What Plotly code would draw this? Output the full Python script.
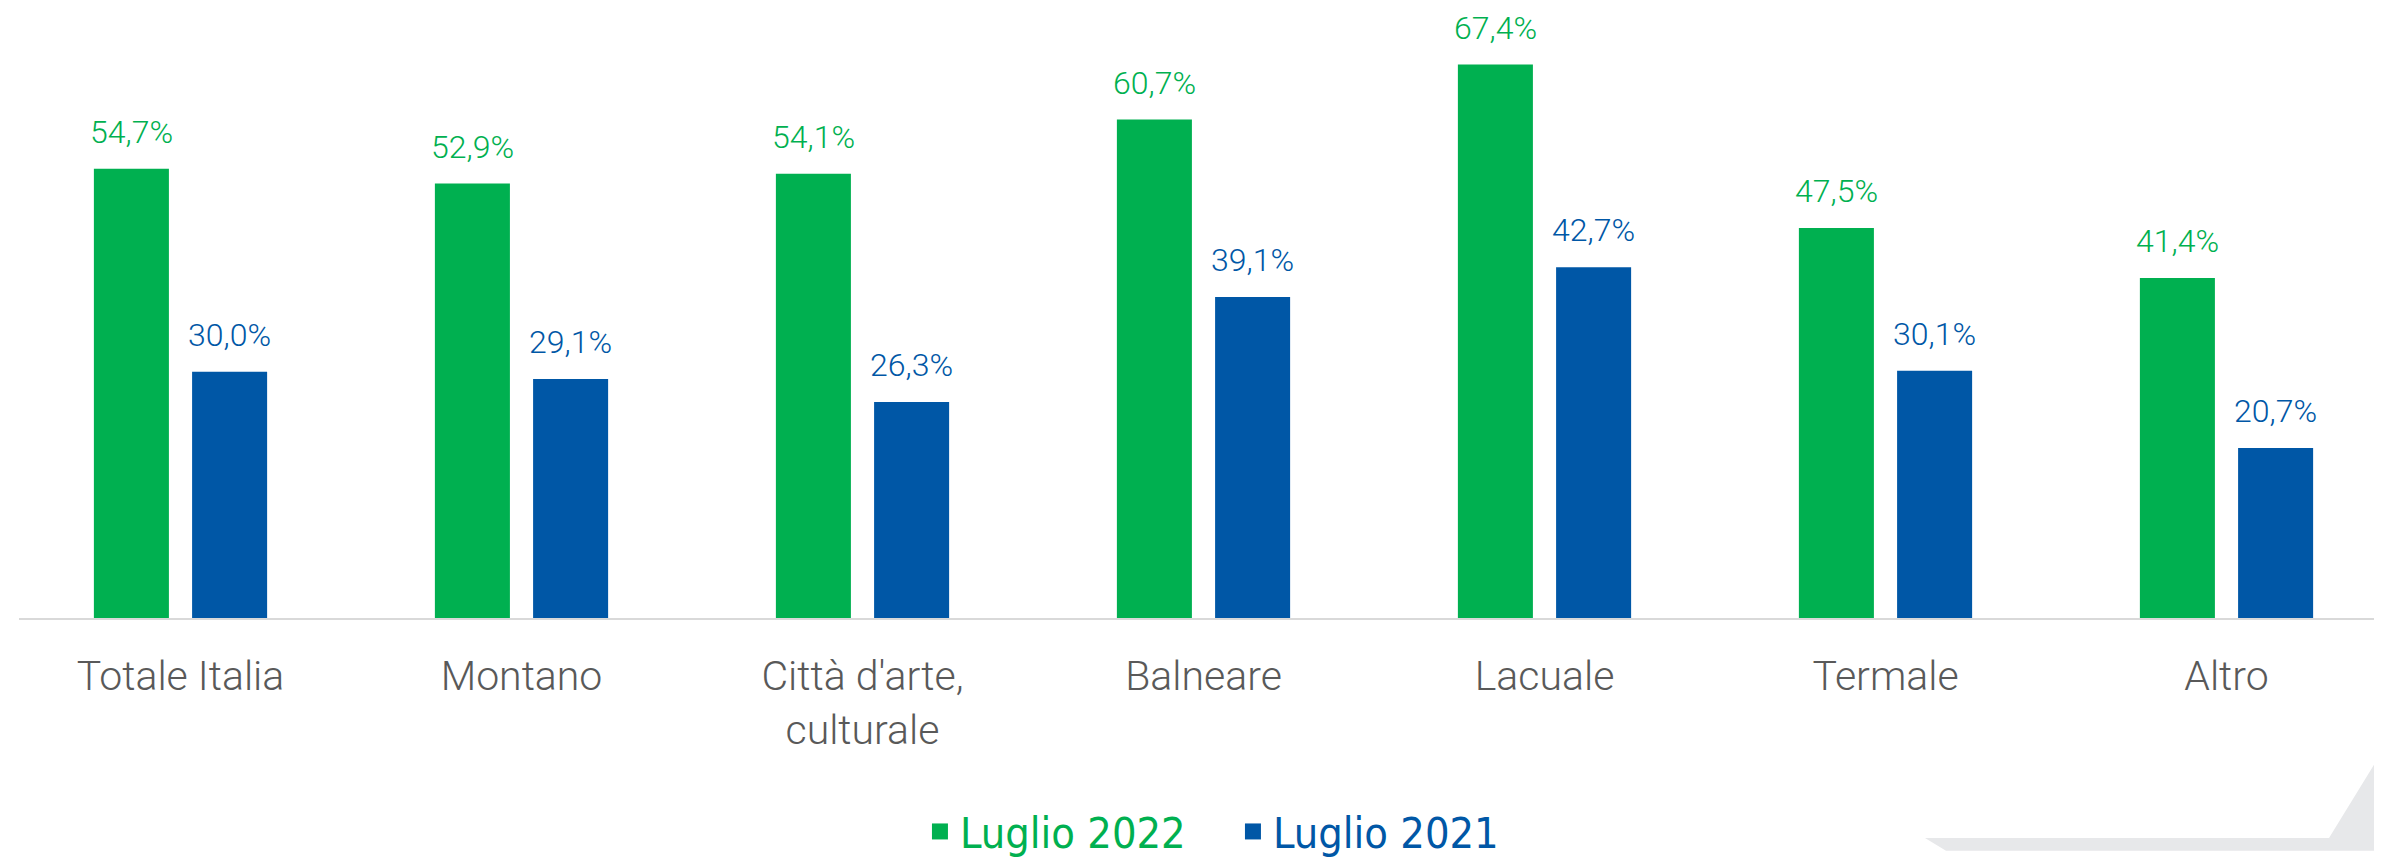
import plotly.graph_objects as go

# --- DATA ---
categories = ["Totale Italia", "Montano", "Città d'arte,<br>culturale", "Balneare",
              "Lacuale", "Termale", "Altro"]
luglio_2022 = [54.7, 52.9, 54.1, 60.7, 67.4, 47.5, 41.4]
luglio_2021 = [30.0, 29.1, 26.3, 39.1, 42.7, 30.1, 20.7]
series_names = ["Luglio 2022", "Luglio 2021"]

GREEN = '#00B050'
BLUE = '#0057A6'
BAR_GAP = 0.424
BAR_GROUP_GAP = 0.236

W, H = 2382, 858
ML, MB = 11, 237
PLOT_W, PLOT_H = W - ML, H - MB
CAT_PX = 341
X0 = -0.5 + 9 / CAT_PX


def fmt(v):
    return f"{v:.1f}%".replace('.', ',')


fig = go.Figure()
for name, vals, col in [(series_names[0], luglio_2022, GREEN),
                        (series_names[1], luglio_2021, BLUE)]:
    fig.add_trace(go.Bar(
        x=categories, y=vals, name=name, showlegend=False,
        marker=dict(color=col, line=dict(width=0)),
    ))
    # legend entry with a bigger square symbol
    fig.add_trace(go.Scatter(
        x=[None], y=[None], mode='markers',
        name=f"<span style='color:{col}'>{name}</span>",
        marker=dict(symbol='square', size=22, color=col),
    ))

# value labels above each bar
slot = (1 - BAR_GAP) / 2
annotations = []
for k, (vals, col) in enumerate([(luglio_2022, GREEN), (luglio_2021, BLUE)]):
    off = -slot / 2 if k == 0 else slot / 2
    for i, v in enumerate(vals):
        annotations.append(dict(
            x=i + off, y=v, xref='x', yref='y', text=fmt(v), showarrow=False,
            yanchor='bottom', yshift=16,
            font=dict(family='Roboto', size=32, color=col, weight=300),
        ))


def px(x, y):
    return (x - ML) / PLOT_W, (PLOT_H - y) / PLOT_H


# grey corner decoration bottom right
pts = [px(1917, 845), px(2321, 845), px(2382, 744), px(2382, 858), px(1938, 858)]
path = 'M ' + ' L '.join(f'{a},{b}' for a, b in pts) + ' Z'

fig.update_layout(
    width=W, height=H,
    barmode='group', bargap=BAR_GAP, bargroupgap=BAR_GROUP_GAP,
    plot_bgcolor='white', paper_bgcolor='white',
    margin=dict(l=ML, r=0, t=0, b=MB),
    showlegend=True,
    legend=dict(orientation='h', x=0.512, xanchor='center', y=-0.35, yanchor='middle',
                font=dict(family='DejaVu Sans Condensed', size=43),
                entrywidth=268, entrywidthmode='pixels', traceorder='normal'),
    annotations=annotations,
    shapes=[dict(type='path', path=path, xref='paper', yref='paper',
                 fillcolor='#E7E8EA', line=dict(width=0), layer='below')],
    xaxis=dict(range=[X0, X0 + PLOT_W / CAT_PX], showline=True, linecolor='#D9D9D9',
               linewidth=2, ticks='outside', ticklen=21, tickcolor='rgba(0,0,0,0)',
               tickfont=dict(family='Roboto', size=41, color='#595959', weight=300),
               showgrid=False),
    yaxis=dict(range=[0, PLOT_H / 8.36], visible=False, showgrid=False),
)

fig.write_html("out.html")
